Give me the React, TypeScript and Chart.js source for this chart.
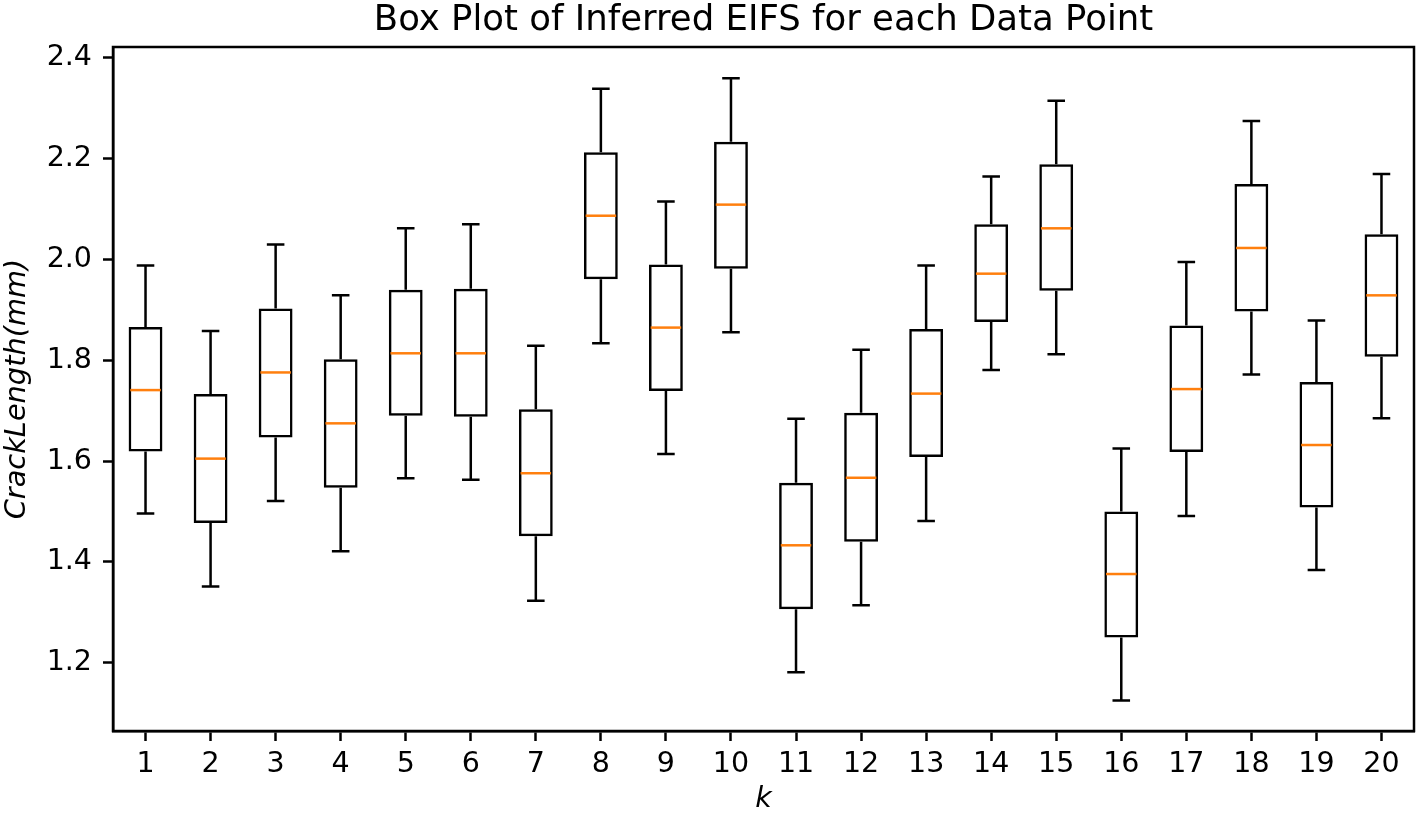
import React, { useEffect, useRef } from "react";
import { Chart, registerables } from "chart.js";

Chart.register(...registerables);

const categories = ["1","2","3","4","5","6","7","8","9","10","11","12","13","14","15","16","17","18","19","20"];
const whiskerLow = [1.496,1.351,1.521,1.421,1.566,1.563,1.323,1.834,1.614,1.856,1.181,1.314,1.481,1.781,1.812,1.125,1.491,1.772,1.384,1.685];
const q1 = [1.619,1.477,1.647,1.547,1.690,1.688,1.451,1.961,1.739,1.982,1.306,1.440,1.608,1.876,1.938,1.250,1.618,1.897,1.508,1.807];
const median = [1.741,1.605,1.776,1.675,1.814,1.814,1.576,2.087,1.865,2.109,1.433,1.567,1.734,1.972,2.062,1.376,1.743,2.023,1.632,1.929];
const q3 = [1.866,1.733,1.903,1.802,1.940,1.942,1.703,2.213,1.990,2.234,1.557,1.696,1.862,2.070,2.189,1.500,1.869,2.150,1.757,2.050];
const whiskerHigh = [1.988,1.858,2.030,1.929,2.062,2.070,1.829,2.339,2.115,2.360,1.684,1.821,1.988,2.165,2.315,1.625,1.995,2.275,1.879,2.170];
const yTicks = [1.2, 1.4, 1.6, 1.8, 2.0, 2.2, 2.4];
const titleText = "Box Plot of Inferred EIFS for each Data Point";

const FONT = "'DejaVu Sans', sans-serif";
const LW = 2.5;

const boxPlugin = {
  id: "boxWhiskers",
  afterDatasetsDraw(chart: any) {
    const ctx = chart.ctx;
    const xs = chart.scales.x;
    const ys = chart.scales.y;
    const step = xs.getPixelForValue(1) - xs.getPixelForValue(0);
    const capHalf = step * 0.135;
    const boxHalf = step * 0.25;
    ctx.save();
    ctx.lineCap = "butt";
    for (let i = 0; i < categories.length; i++) {
      const cx = xs.getPixelForValue(i);
      ctx.strokeStyle = "#000";
      ctx.lineWidth = LW;
      ctx.beginPath();
      ctx.moveTo(cx, ys.getPixelForValue(q3[i]));
      ctx.lineTo(cx, ys.getPixelForValue(whiskerHigh[i]));
      ctx.moveTo(cx - capHalf, ys.getPixelForValue(whiskerHigh[i]));
      ctx.lineTo(cx + capHalf, ys.getPixelForValue(whiskerHigh[i]));
      ctx.moveTo(cx, ys.getPixelForValue(q1[i]));
      ctx.lineTo(cx, ys.getPixelForValue(whiskerLow[i]));
      ctx.moveTo(cx - capHalf, ys.getPixelForValue(whiskerLow[i]));
      ctx.lineTo(cx + capHalf, ys.getPixelForValue(whiskerLow[i]));
      ctx.stroke();
      ctx.strokeStyle = "#ff7f0e";
      ctx.lineWidth = LW;
      ctx.beginPath();
      ctx.moveTo(cx - boxHalf + 1, ys.getPixelForValue(median[i]));
      ctx.lineTo(cx + boxHalf - 1, ys.getPixelForValue(median[i]));
      ctx.stroke();
    }
    const a = chart.chartArea;
    ctx.strokeStyle = "#000";
    ctx.lineWidth = LW;
    ctx.strokeRect(a.left, a.top, a.right - a.left, a.bottom - a.top);
    ctx.fillStyle = "#000";
    ctx.font = `35.5px ${FONT}`;
    ctx.textAlign = "center";
    ctx.textBaseline = "alphabetic";
    ctx.fillText(titleText, (a.left + a.right) / 2, 29.5);
    ctx.restore();
  },
};

export default function App() {
  const ref = useRef<HTMLCanvasElement | null>(null);
  useEffect(() => {
    document.body.style.margin = "0";
    const canvas = ref.current;
    if (!canvas) return;
    const chart = new Chart(canvas, {
      type: "bar",
      data: {
        labels: categories,
        datasets: [
          {
            label: "IQR",
            data: categories.map((_, i) => [q1[i], q3[i]]),
            backgroundColor: "rgba(0,0,0,0)",
            borderColor: "#000",
            borderWidth: LW,
            borderSkipped: false,
            barPercentage: 0.52,
            categoryPercentage: 1,
          },
        ],
      },
      options: {
        animation: false,
        responsive: false,
        devicePixelRatio: 1,
        layout: { padding: { left: 0, right: 4, top: 47, bottom: 0 } },
        plugins: {
          legend: { display: false },
          tooltip: { enabled: false },
          title: { display: false },
        },
        scales: {
          x: {
            type: "category",
            offset: true,
            grid: {
              offset: false,
              drawOnChartArea: false,
              drawTicks: true,
              tickLength: 10,
              tickWidth: LW,
              tickColor: "#000",
            },
            border: { display: true, color: "#000", width: LW },
            ticks: {
              color: "#000",
              font: { family: FONT, size: 28.5, lineHeight: 1.2 },
              padding: 6,
              maxRotation: 0,
              autoSkip: false,
            },
            title: {
              display: true,
              text: "k",
              color: "#000",
              font: { family: FONT, size: 28.5, style: "italic", lineHeight: 1.2 },
              padding: { top: 0, bottom: 0 },
            },
            afterFit(scale: any) {
              scale.height = 86;
            },
          },
          y: {
            type: "linear",
            min: 1.0645,
            max: 2.4218,
            grid: {
              drawOnChartArea: false,
              drawTicks: true,
              tickLength: 10,
              tickWidth: LW,
              tickColor: "#000",
            },
            border: { display: true, color: "#000", width: LW },
            afterBuildTicks(scale: any) {
              scale.ticks = yTicks.map((v) => ({ value: v }));
            },
            ticks: {
              color: "#000",
              font: { family: FONT, size: 28.5, lineHeight: 1.2 },
              padding: 11,
              callback: (v: any) => Number(v).toFixed(1),
            },
            title: {
              display: true,
              text: "CrackLength(mm)",
              color: "#000",
              font: { family: FONT, size: 28.8, style: "italic", lineHeight: 1.2 },
              padding: { top: 0, bottom: 0 },
            },
            afterFit(scale: any) {
              scale.width = 113;
            },
          },
        },
      },
      plugins: [boxPlugin],
    } as any);
    return () => chart.destroy();
  }, []);
  return (
    <div style={{ position: "absolute", left: 0, top: 0, width: 1418, height: 817 }}>
      <canvas ref={ref} width={1418} height={817} style={{ display: "block" }} />
    </div>
  );
}
